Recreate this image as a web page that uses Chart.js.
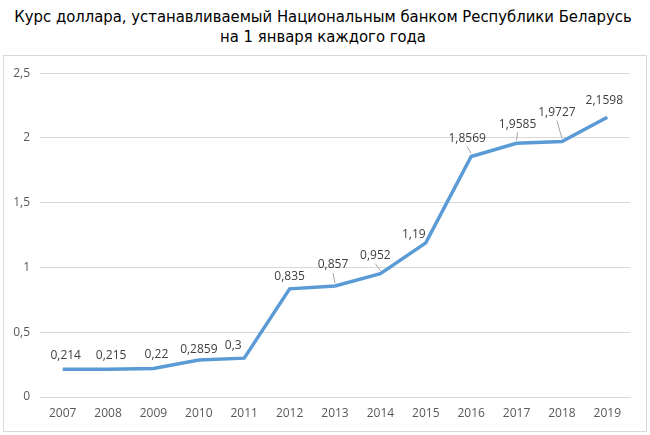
<!DOCTYPE html>
<html>
<head>
<meta charset="utf-8">
<script src="https://cdn.jsdelivr.net/npm/chart.js@4"></script>
<style>
    body { margin: 0; background: #fff; width: 650px; height: 435px; position: relative; overflow: hidden; }
    #title {
        position: absolute; left: 0; top: 7px; width: 646px;
        text-align: center; font-family: "Liberation Sans Narrow", "DejaVu Sans Condensed", "Liberation Sans", sans-serif;
        font-size: 16.5px; line-height: 20px; color: #000;
    }
    #box {
        position: absolute; left: 3px; top: 55px; width: 642px; height: 375px;
        border: 1px solid #d9d9d9;
    }
</style>
</head>
<body>
<div id="title">Курс доллара, устанавливаемый Национальным банком Республики Беларусь<br>на 1 января каждого года</div>
<div id="box"><canvas id="rateChart" width="642" height="375"></canvas></div>
<script>
const years = ['2007', '2008', '2009', '2010', '2011', '2012', '2013', '2014', '2015', '2016', '2017', '2018', '2019'];
const rates = [0.214, 0.215, 0.22, 0.2859, 0.3, 0.835, 0.857, 0.952, 1.19, 1.8569, 1.9585, 1.9727, 2.1598];
const yTicks = [0, 0.5, 1, 1.5, 2, 2.5];

// where each value label sits relative to its point (dx, dy), and whether a leader line is drawn
const labelShift = [
    [3, -14, false], [3, -14, false], [3, -14, false], [0, -10, false], [-11, -13, false],
    [0, -12, false], [-2, -21, true], [-5, -18, true], [-12, -8, false], [-4, -18, true],
    [1, -19, true], [-5, -29, true], [-3, -17, false]
];

function comma(v) {
    return String(v).replace('.', ',');
}

// draws the value labels over the line
const valueLabels = {
    id: 'valueLabels',
    afterDatasetsDraw(chart) {
        const ctx = chart.ctx;
        const meta = chart.getDatasetMeta(0);
        ctx.save();
        ctx.font = '12px "Open Sans"';
        ctx.textAlign = 'center';
        ctx.textBaseline = 'middle';
        meta.data.forEach((pt, i) => {
            const s = labelShift[i];
            const lx = pt.x + s[0];
            const ly = pt.y + s[1];
            if (s[2]) {
                ctx.strokeStyle = '#a6a6a6';
                ctx.lineWidth = 1;
                ctx.beginPath();
                ctx.moveTo(lx, ly + 8);
                ctx.lineTo(pt.x, pt.y - 3);
                ctx.stroke();
            }
            ctx.fillStyle = '#404040';
            ctx.fillText(comma(rates[i]), lx, ly);
        });
        ctx.restore();
    }
};

const ctx = document.getElementById('rateChart').getContext('2d');
new Chart(ctx, {
    type: 'line',
    data: {
        labels: years,
        datasets: [{
            data: rates,
            borderColor: '#5b9bd5',
            borderWidth: 3.5,
            pointRadius: 0,
            tension: 0,
            fill: false
        }]
    },
    options: {
        responsive: false,
        animation: false,
        layout: { padding: { top: 17, right: 16, left: 0, bottom: 0 } },
        plugins: { legend: { display: false }, title: { display: false }, tooltip: { enabled: false } },
        scales: {
            x: {
                offset: true,
                grid: { display: false, drawTicks: false },
                border: { color: '#d9d9d9' },
                ticks: { color: '#595959', font: { family: 'Open Sans', size: 12 }, padding: 9, maxRotation: 0 },
                afterFit(scale) { scale.height = 34; }
            },
            y: {
                min: 0,
                max: 2.5,
                afterBuildTicks(scale) { scale.ticks = yTicks.map(v => ({ value: v })); },
                grid: { color: '#d9d9d9', drawTicks: false },
                border: { display: false },
                ticks: {
                    color: '#595959',
                    font: { family: 'Open Sans', size: 12 },
                    padding: 10,
                    callback: v => comma(v)
                },
                afterFit(scale) { scale.width = 36; }
            }
        }
    },
    plugins: [valueLabels]
});
</script>
</body>
</html>
